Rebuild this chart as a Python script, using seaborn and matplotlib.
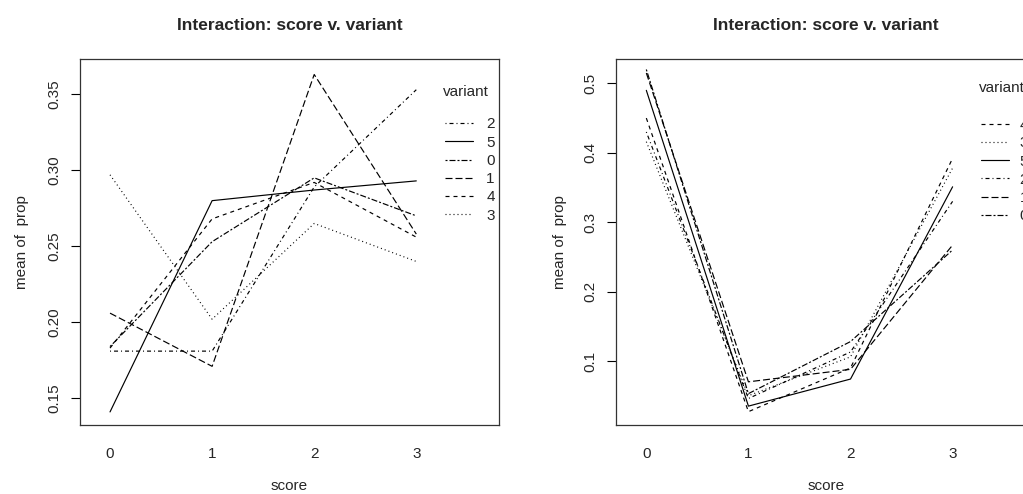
import numpy as np
import pandas as pd
import matplotlib
matplotlib.use("Agg")
import matplotlib.pyplot as plt
import seaborn as sns
from matplotlib.lines import Line2D

# ---------------- data ----------------
scores = [0, 1, 2, 3]
variants = ["0", "1", "2", "3", "4", "5"]

left_v0 = [0.184, 0.253, 0.295, 0.270]
left_v1 = [0.206, 0.171, 0.363, 0.258]
left_v2 = [0.181, 0.181, 0.289, 0.353]
left_v3 = [0.297, 0.202, 0.265, 0.240]
left_v4 = [0.183, 0.268, 0.292, 0.256]
left_v5 = [0.141, 0.280, 0.287, 0.293]

right_v0 = [0.520, 0.053, 0.128, 0.260]
right_v1 = [0.515, 0.070, 0.088, 0.267]
right_v2 = [0.430, 0.046, 0.113, 0.330]
right_v3 = [0.416, 0.050, 0.106, 0.378]
right_v4 = [0.450, 0.027, 0.090, 0.392]
right_v5 = [0.490, 0.035, 0.074, 0.351]

left_yticks = [0.15, 0.20, 0.25, 0.30, 0.35]
right_yticks = [0.1, 0.2, 0.3, 0.4, 0.5]

title_text = "Interaction: score v. variant"
xlabel_text = "score"
ylabel_text = "mean of  prop"
legend_title = "variant"

# ---------------- style ----------------
sns.set_style("white")
plt.rcParams["font.family"] = ["Liberation Sans", "DejaVu Sans"]
plt.rcParams["lines.scale_dashes"] = False

PX = 0.72  # points per pixel at dpi 100
# R line types: 5 solid, 4 dashed, 3 dotted, 2 dotdash, 1 longdash, 0 twodash
dash_px = {
    "5": "",
    "4": (4, 4),
    "3": (1, 3),
    "2": (1, 3, 4, 3),
    "1": (7, 3),
    "0": (2, 2, 6, 2),
}
dashes = {k: ("" if v == "" else tuple(d * PX for d in v)) for k, v in dash_px.items()}

W, H = 1023, 494
fig = plt.figure(figsize=(W / 100, H / 100), dpi=100)

box_w = 419.3
box_top, box_bot = 59.3, 425.0
box_h = box_bot - box_top
ax_left = fig.add_axes([79.7 / W, (H - box_bot) / H, box_w / W, box_h / H])
ax_right = fig.add_axes([616.0 / W, (H - box_bot) / H, box_w / W, box_h / H])


def make_df(series):
    rows = []
    for v, vals in zip(variants, series):
        for s, p in zip(scores, vals):
            rows.append({"score": s, "prop": p, "variant": v})
    return pd.DataFrame(rows)


def draw(ax, series, ylim, yticks, ylab_x):
    df = make_df(series)
    sns.lineplot(data=df, x="score", y="prop", style="variant", style_order=variants,
                 dashes=dashes, color="black", linewidth=0.85, legend=False, ax=ax,
                 estimator=None)
    ax.set_xlim(-0.297, 3.81)
    ax.set_ylim(*ylim)
    ax.set_xticks(scores)
    ax.set_xticklabels([str(s) for s in scores])
    ax.set_yticks(yticks)
    ax.set_yticklabels([f"{t:.2f}" if ylim[0] > 0.1 else f"{t:.1f}" for t in yticks],
                       rotation=90, va="center")
    ax.tick_params(axis="x", length=0, pad=16, labelsize=11)
    ax.tick_params(axis="y", length=6.3, width=0.8, direction="out", pad=7, labelsize=11,
                   left=True, color="black")
    for sp in ax.spines.values():
        sp.set_visible(True)
        sp.set_color("#333333")
        sp.set_linewidth(0.9)
    ax.set_xlabel(xlabel_text, fontsize=11)
    ax.set_ylabel(ylabel_text, fontsize=11)
    ax.xaxis.set_label_coords(0.5, -(486 - box_bot) / box_h)
    ax.xaxis.label.set_va("center")
    ax.yaxis.set_label_coords(ylab_x, 0.5)
    ax.yaxis.label.set_va("center")
    ax.text(0.5, 1 + (box_top - 25) / box_h, title_text, transform=ax.transAxes,
            fontsize=12.5, fontweight="bold", ha="center", va="center")

    # legend ordered by value at last score (as R's interaction.plot)
    order = sorted(range(len(variants)), key=lambda i: -series[i][-1])
    handles = []
    labels = []
    for i in order:
        v = variants[i]
        ln = Line2D([], [], color="black", linewidth=0.85)
        if dashes[v] != "":
            ln.set_dashes(dashes[v])
        handles.append(ln)
        labels.append(v)
    return handles, labels


left_series = [left_v0, left_v1, left_v2, left_v3, left_v4, left_v5]
right_series = [right_v0, right_v1, right_v2, right_v3, right_v4, right_v5]

hl, ll = draw(ax_left, left_series, (0.1324, 0.373), left_yticks, (22 - 79.7) / box_w)
hr, lr = draw(ax_right, right_series, (0.0078, 0.5347), right_yticks, (560 - 616) / box_w)


def add_legend(ax, handles, labels, title_y_px, first_row_px, pad):
    lx = (443 - 79.7) / box_w
    ax.text(lx, 1 - (title_y_px - box_top) / box_h, legend_title,
            transform=ax.transAxes, fontsize=11, va="center", ha="left")
    leg = ax.legend(handles, labels, frameon=False, loc="upper left",
                    bbox_to_anchor=(lx + 0.005, 1 - (first_row_px - 6 - box_top) / box_h),
                    fontsize=11, handlelength=1.8, handletextpad=pad,
                    labelspacing=0.28, borderpad=0.0, borderaxespad=0.0)
    return leg


add_legend(ax_left, hl, ll, 92, 123.3, 0.9)
add_legend(ax_right, hr, lr, 88, 124, 0.7)

fig.savefig("out.png", dpi=100)
